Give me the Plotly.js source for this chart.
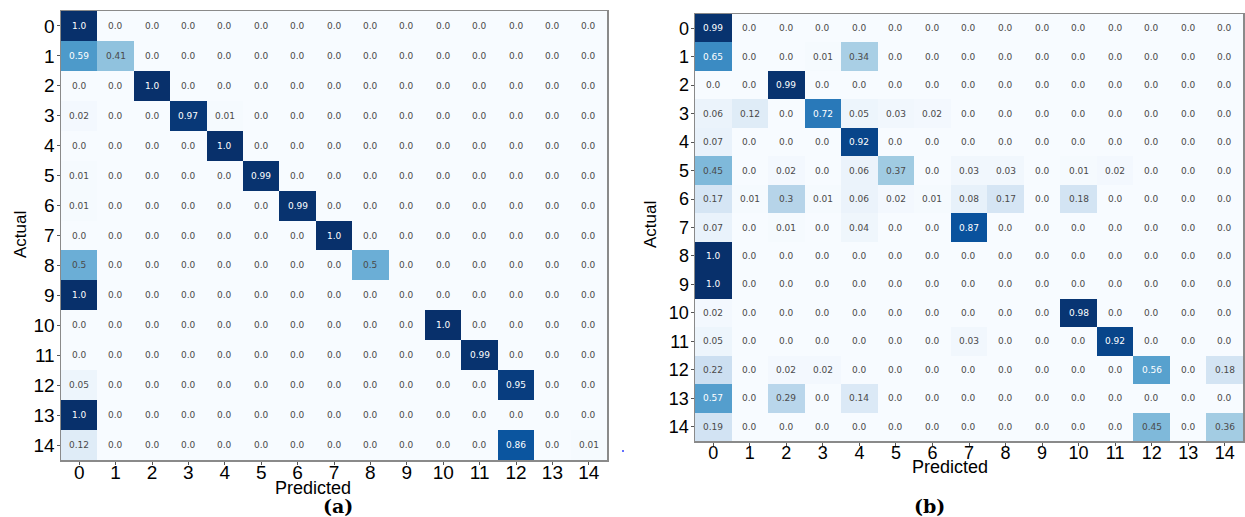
<!DOCTYPE html>
<html>
<head>
<meta charset="utf-8">
<script src="https://cdn.plot.ly/plotly-3.0.1.min.js"></script>
<style>html,body{margin:0;padding:0;background:#fff;}#chart{width:1245px;height:517px;}</style>
</head>
<body>
<div id="chart"></div>
<script>
const classLabels = ['0','1','2','3','4','5','6','7','8','9','10','11','12','13','14'];

const cmA = [
  [1.0,0,0,0,0,0,0,0,0,0,0,0,0,0,0],
  [0.59,0.41,0,0,0,0,0,0,0,0,0,0,0,0,0],
  [0,0,1.0,0,0,0,0,0,0,0,0,0,0,0,0],
  [0.02,0,0,0.97,0.01,0,0,0,0,0,0,0,0,0,0],
  [0,0,0,0,1.0,0,0,0,0,0,0,0,0,0,0],
  [0.01,0,0,0,0,0.99,0,0,0,0,0,0,0,0,0],
  [0.01,0,0,0,0,0,0.99,0,0,0,0,0,0,0,0],
  [0,0,0,0,0,0,0,1.0,0,0,0,0,0,0,0],
  [0.5,0,0,0,0,0,0,0,0.5,0,0,0,0,0,0],
  [1.0,0,0,0,0,0,0,0,0,0,0,0,0,0,0],
  [0,0,0,0,0,0,0,0,0,0,1.0,0,0,0,0],
  [0,0,0,0,0,0,0,0,0,0,0,0.99,0,0,0],
  [0.05,0,0,0,0,0,0,0,0,0,0,0,0.95,0,0],
  [1.0,0,0,0,0,0,0,0,0,0,0,0,0,0,0],
  [0.12,0,0,0,0,0,0,0,0,0,0,0,0.86,0,0.01]
];

const cmB = [
  [0.99,0,0,0,0,0,0,0,0,0,0,0,0,0,0],
  [0.65,0,0,0.01,0.34,0,0,0,0,0,0,0,0,0,0],
  [0,0,0.99,0,0,0,0,0,0,0,0,0,0,0,0],
  [0.06,0.12,0,0.72,0.05,0.03,0.02,0,0,0,0,0,0,0,0],
  [0.07,0,0,0,0.92,0,0,0,0,0,0,0,0,0,0],
  [0.45,0,0.02,0,0.06,0.37,0,0.03,0.03,0,0.01,0.02,0,0,0],
  [0.17,0.01,0.3,0.01,0.06,0.02,0.01,0.08,0.17,0,0.18,0,0,0,0],
  [0.07,0,0.01,0,0.04,0,0,0.87,0,0,0,0,0,0,0],
  [1.0,0,0,0,0,0,0,0,0,0,0,0,0,0,0],
  [1.0,0,0,0,0,0,0,0,0,0,0,0,0,0,0],
  [0.02,0,0,0,0,0,0,0,0,0,0.98,0,0,0,0],
  [0.05,0,0,0,0,0,0,0.03,0,0,0,0.92,0,0,0],
  [0.22,0,0.02,0.02,0,0,0,0,0,0,0,0,0.56,0,0.18],
  [0.57,0,0.29,0,0.14,0,0,0,0,0,0,0,0,0,0],
  [0.19,0,0,0,0,0,0,0,0,0,0,0,0.45,0,0.36]
];

const panelTags = ['(a)', '(b)'];
const xTitle = 'Predicted';
const yTitle = 'Actual';

const blues = [
  [0.0,'#f7fbff'],[0.125,'#deebf7'],[0.25,'#c6dbef'],[0.375,'#9ecae1'],
  [0.5,'#6baed6'],[0.625,'#4292c6'],[0.75,'#2171b5'],[0.875,'#08519c'],[1.0,'#08306b']
];

function fmt(v){
  return (Math.round(v*10) === v*10) ? v.toFixed(1) : String(v);
}

function heat(z, xa, ya){
  return {
    type:'heatmap', z:z, x:classLabels, y:classLabels,
    xaxis:xa, yaxis:ya, colorscale:blues, zmin:0, zmax:1,
    showscale:false, hoverinfo:'z'
  };
}

const annotations = [];
function cellText(z, xa, ya){
  z.forEach((row, r) => row.forEach((v, c) => {
    annotations.push({
      x: classLabels[c], y: classLabels[r], xref: xa, yref: ya,
      text: fmt(v), showarrow:false,
      font:{family:'DejaVu Sans', size:9, color: v > 0.5 ? '#ffffff' : '#4a4a4a'}
    });
  }));
}
cellText(cmA, 'x', 'y');
cellText(cmB, 'x2', 'y2');

function paperText(text, px, py, font, angle){
  annotations.push({text:text, xref:'paper', yref:'paper', x:px/1245, y:1-py/517,
    showarrow:false, font:font, xanchor:'center', yanchor:'middle', textangle:angle||0});
}
const xTitleFont = {family:'Liberation Sans', size:18, color:'#000'};
const yTitleFont = {family:'Liberation Sans', size:17, color:'#000'};
const tagFont = {family:'DejaVu Serif', size:19, color:'#000', weight:'bold'};
paperText(xTitle, 313, 488, xTitleFont);
paperText(yTitle, 20, 234, yTitleFont, -90);
paperText(xTitle, 950, 467, xTitleFont);
paperText(yTitle, 650, 225, yTitleFont, -90);
paperText(panelTags[0], 338, 506, tagFont);
paperText(panelTags[1], 929, 506, tagFont);

function axis(domain, tickSize, standoff, isY){
  const a = {
    domain: domain, type:'category', showgrid:false, zeroline:false,
    showline:true, mirror:true, linecolor:'#8a8a8a', linewidth:1.5,
    ticks:'outside', ticklen:3, tickcolor:'#555', tickwidth:1,
    ticklabelstandoff: standoff,
    tickfont:{family:'Liberation Sans', size:tickSize, color:'#000'},
    automargin:false, fixedrange:true
  };
  if (isY) a.autorange = 'reversed';
  return a;
}

const layout = {
  width:1245, height:517, margin:{l:0,r:0,t:0,b:0},
  paper_bgcolor:'#fff', plot_bgcolor:'#fff', showlegend:false,
  xaxis: axis([61/1245, 607/1245], 19, -8, false),
  yaxis: axis([1-460/517, 1-11/517], 19, -2, true),
  xaxis2: axis([695/1245, 1243/1245], 18, -8, false),
  yaxis2: axis([1-441/517, 1-14/517], 18, -2, true),
  annotations: annotations,
  shapes:[{type:'circle', xref:'paper', yref:'paper',
    x0:622/1245, x1:624/1245, y0:1-452/517, y1:1-450/517,
    fillcolor:'#3040ff', line:{width:0}}]
};
layout.xaxis2.anchor = 'y2';
layout.yaxis2.anchor = 'x2';

Plotly.newPlot('chart', [heat(cmA,'x','y'), heat(cmB,'x2','y2')], layout, {staticPlot:true});
</script>
</body>
</html>
